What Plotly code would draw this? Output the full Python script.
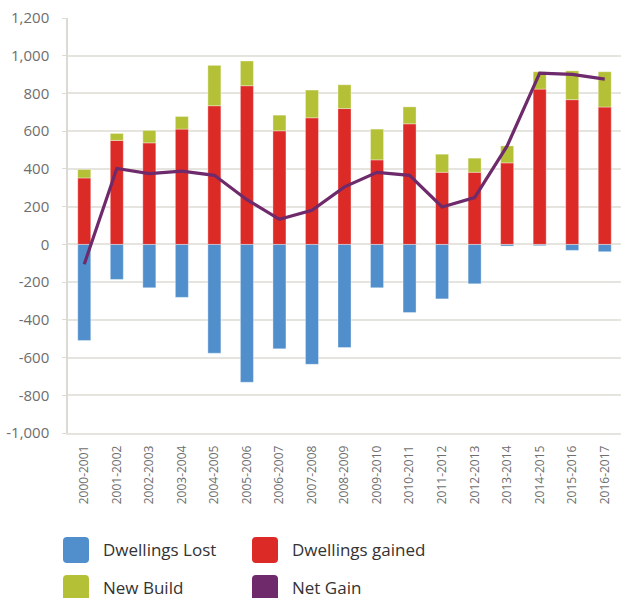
import plotly.graph_objects as go

years = ["2000-2001", "2001-2002", "2002-2003", "2003-2004", "2004-2005", "2005-2006",
         "2006-2007", "2007-2008", "2008-2009", "2009-2010", "2010-2011", "2011-2012",
         "2012-2013", "2013-2014", "2014-2015", "2015-2016", "2016-2017"]
dwellings_lost = [-510, -186, -230, -281, -577, -731, -554, -636, -547, -230, -361, -289,
                  -209, -9, -7, -32, -39]
dwellings_gained = [352, 551, 538, 611, 735, 841, 602, 671, 720, 448, 639, 382, 382, 432,
                    823, 767, 728]
new_build = [45, 37, 66, 67, 214, 131, 83, 147, 126, 163, 90, 96, 75, 90, 92, 153, 187]
net_gain = [-105, 402, 375, 388, 366, 237, 133, 181, 305, 382, 366, 198, 248, 522, 908,
            901, 876]
y_ticks = [-1000, -800, -600, -400, -200, 0, 200, 400, 600, 800, 1000, 1200]
y_tick_labels = ["-1,000", "-800", "-600", "-400", "-200", "0", "200", "400", "600",
                 "800", "1,000", "1,200"]

C_BLUE = "#508fcc"
C_RED = "#dc2a27"
C_GREEN = "#b4c035"
C_PURPLE = "#6e2a6b"
FONT = "Open Sans"

fig = go.Figure()
edge = dict(width=1, color="rgba(255,255,255,0.35)")
fig.add_trace(go.Bar(x=years, y=dwellings_lost, name="Dwellings Lost",
                     marker=dict(color=C_BLUE, line=edge), width=0.4))
fig.add_trace(go.Bar(x=years, y=dwellings_gained, name="Dwellings gained",
                     marker=dict(color=C_RED, line=edge), width=0.4))
fig.add_trace(go.Bar(x=years, y=new_build, name="New Build",
                     marker=dict(color=C_GREEN, line=edge), width=0.4))
fig.add_trace(go.Scatter(x=years, y=net_gain, name="Net Gain", mode="lines",
                         line=dict(color=C_PURPLE, width=3.2)))

# plot area in pixels: left 68, right 621, top 18, bottom 433
W, H = 621, 598
L, R, T, B = 68, 621, 18, 433
pw, ph = R - L, B - T


def px2x(px):
    return (px - L) / pw


def px2y(py):
    return (B - py) / ph


def rounded_rect(x0, y0, x1, y1, r=4):
    ax0, ax1 = px2x(x0), px2x(x1)
    ay0, ay1 = px2y(y0), px2y(y1)
    rx, ry = r / pw, r / ph
    return (f"M {ax0+rx},{ay0} L {ax1-rx},{ay0} Q {ax1},{ay0} {ax1},{ay0-ry} "
            f"L {ax1},{ay1+ry} Q {ax1},{ay1} {ax1-rx},{ay1} L {ax0+rx},{ay1} "
            f"Q {ax0},{ay1} {ax0},{ay1+ry} L {ax0},{ay0-ry} Q {ax0},{ay0} {ax0+rx},{ay0} Z")


legend_items = [
    ("Dwellings Lost", C_BLUE, 63, 537),
    ("Dwellings gained", C_RED, 252, 537),
    ("New Build", C_GREEN, 63, 575),
    ("Net Gain", C_PURPLE, 252, 575),
]
shapes = []
annotations = []
for label, col, sx, sy in legend_items:
    shapes.append(dict(type="path", xref="paper", yref="paper",
                       path=rounded_rect(sx, sy, sx + 26, sy + 26),
                       fillcolor=col, line=dict(width=0)))
    annotations.append(dict(xref="paper", yref="paper", x=px2x(sx + 38), y=px2y(sy + 12),
                            text=label, showarrow=False, xanchor="left", yanchor="middle",
                            font=dict(family=FONT, size=17, color="#333333")))

fig.update_layout(
    width=W, height=H,
    margin=dict(l=L, r=W - R, t=T, b=H - B),
    paper_bgcolor="white", plot_bgcolor="white",
    barmode="relative",
    showlegend=False,
    shapes=shapes,
    annotations=annotations,
    font=dict(family=FONT, color="#6e6e6e"),
)
fig.update_yaxes(range=[-1000, 1200], tickvals=y_ticks, ticktext=y_tick_labels,
                 showgrid=True, gridcolor="#e6e4df", gridwidth=1.5,
                 zeroline=True, zerolinecolor="#e6e4df", zerolinewidth=1.5,
                 showline=True, linecolor="#dcdad4", linewidth=1.5,
                 ticks="outside", ticklen=4, tickcolor="#dcdad4", tickwidth=1,
                 ticklabelstandoff=10,
                 tickfont=dict(family=FONT, size=15, color="#6e6e6e"))
fig.update_xaxes(tickangle=-90, showgrid=False, showline=True, linecolor="#e6e4df",
                 linewidth=1.5, ticks="outside", ticklen=6, tickcolor="rgba(0,0,0,0)",
                 tickfont=dict(family=FONT, size=12, color="#6e6e6e"))

fig.write_html("out.html", config={"displayModeBar": False},
               post_script="document.body.style.margin='0px';")
